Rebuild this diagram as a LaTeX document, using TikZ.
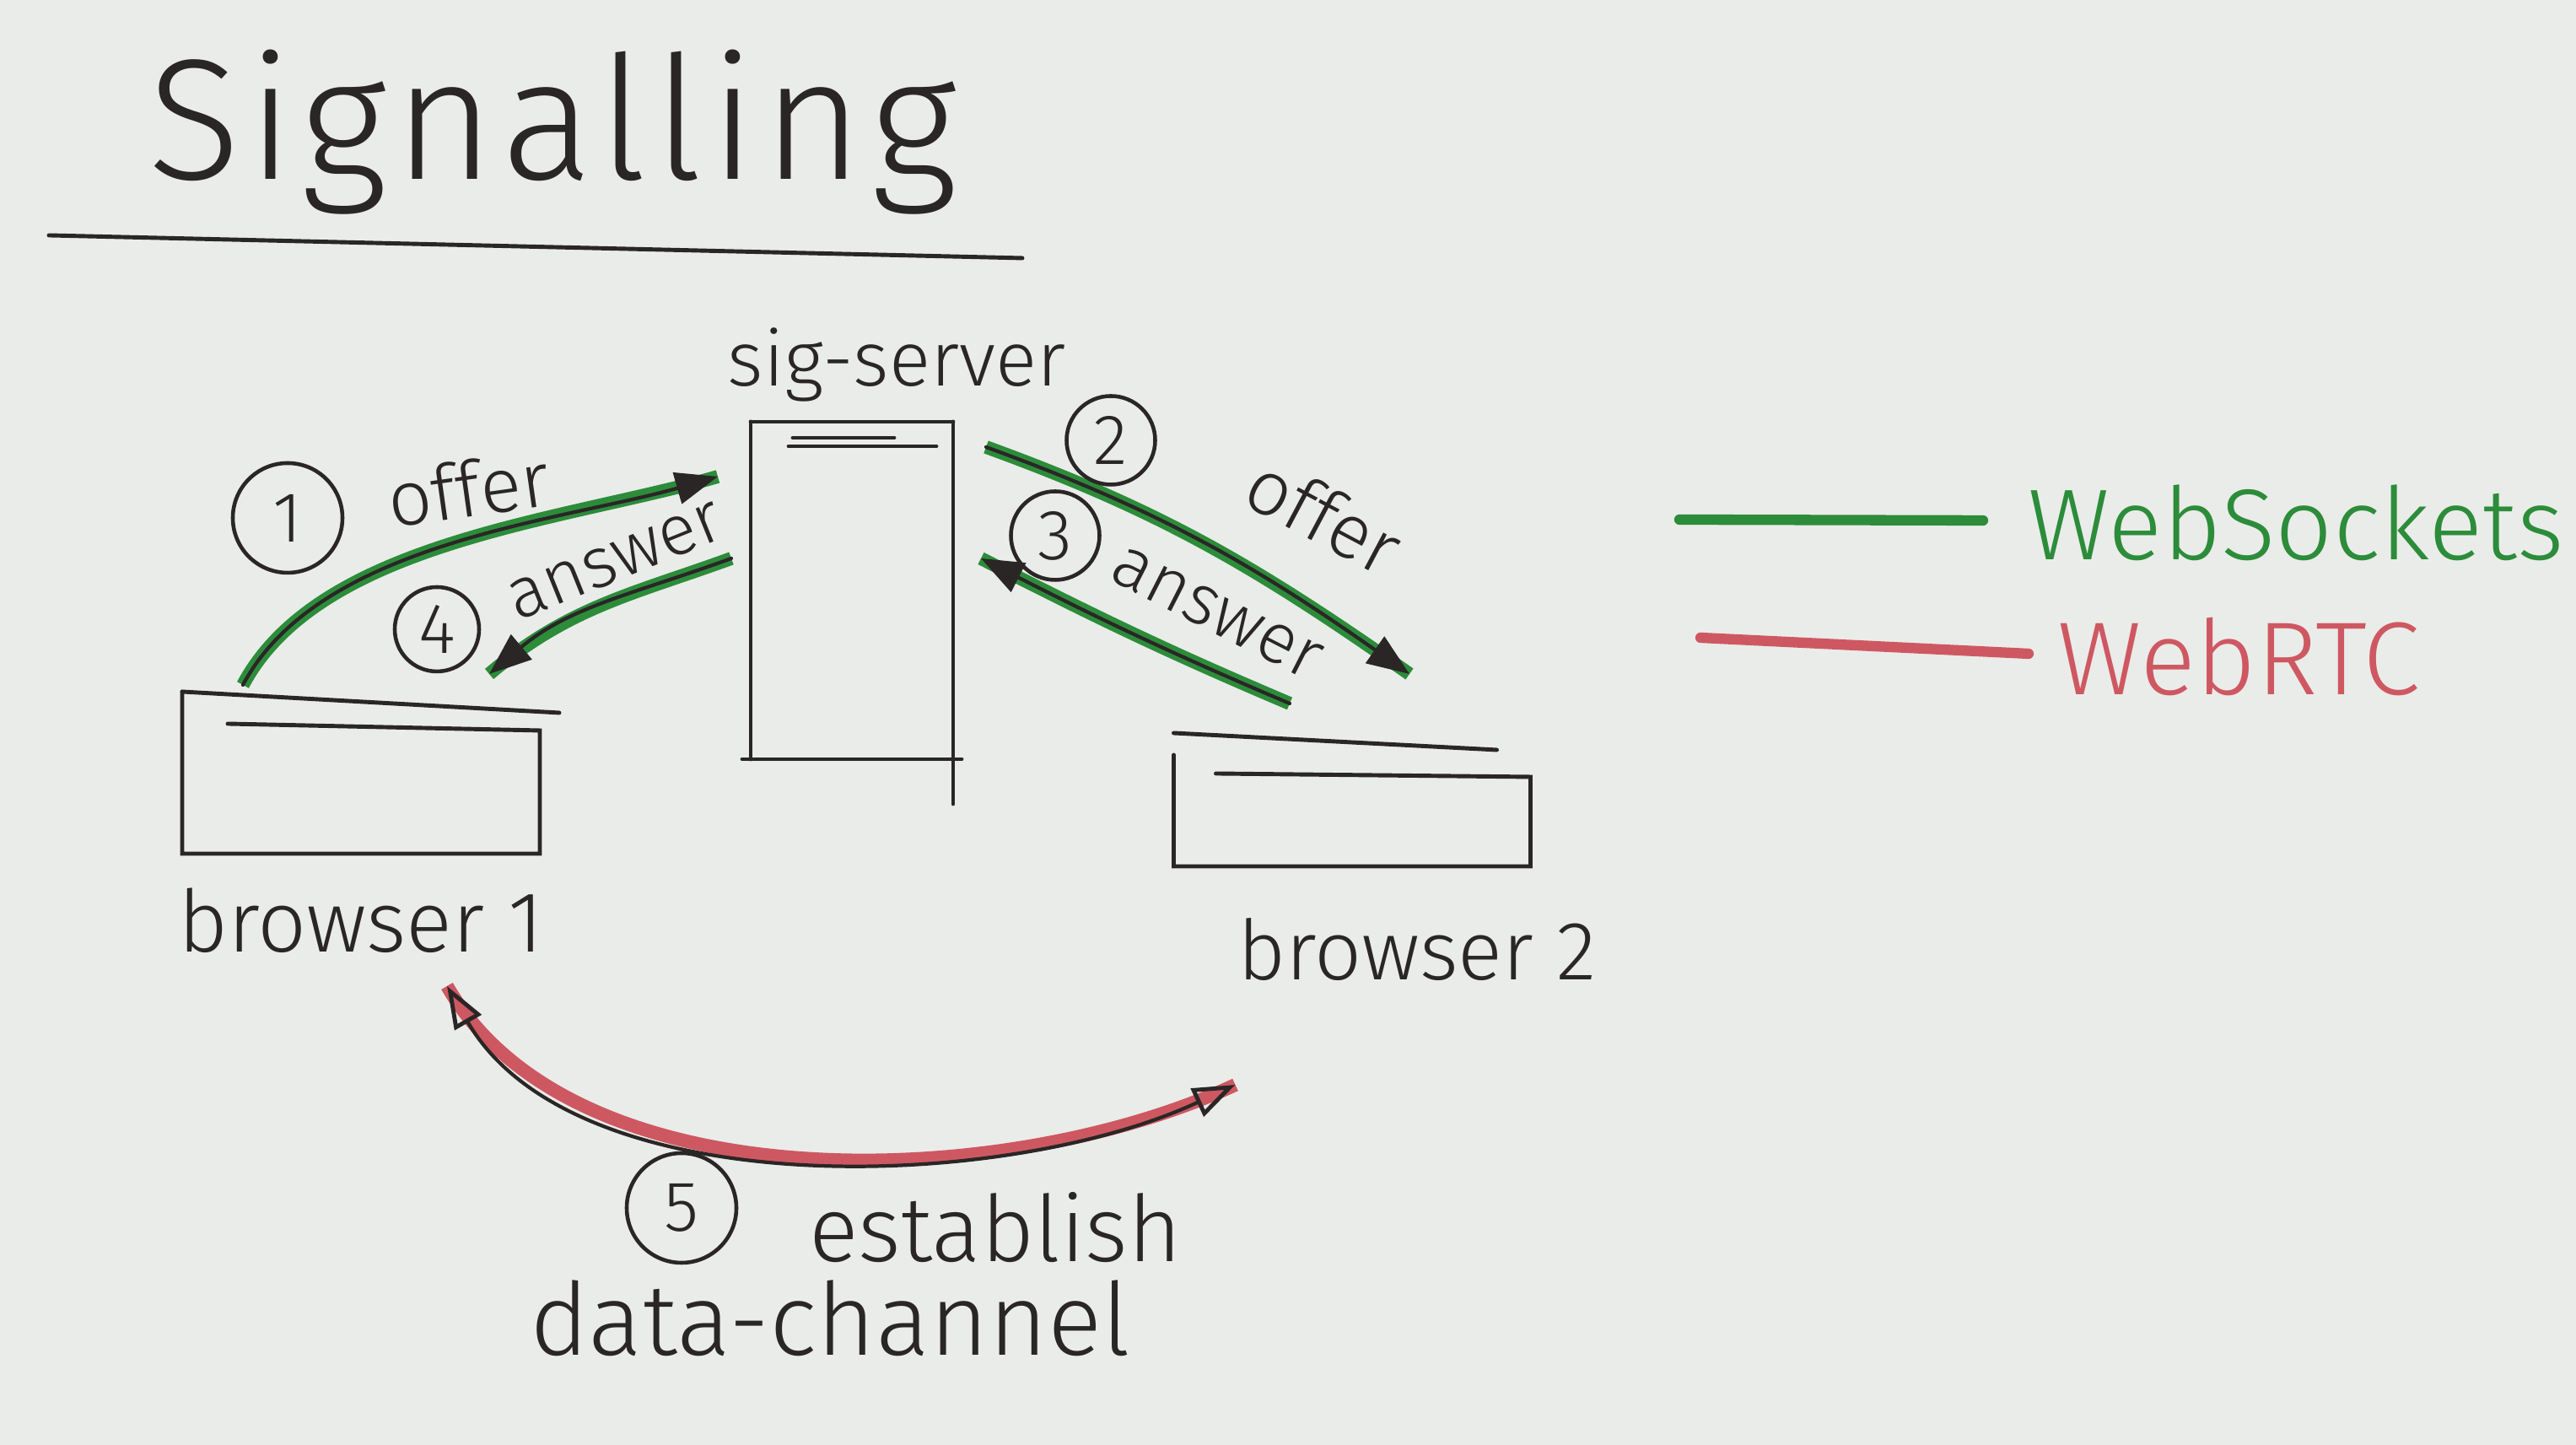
\documentclass[tikz,border=0pt]{standalone}
\usepackage{fontspec}
\setmainfont{Fira Sans Light}
\usetikzlibrary{arrows.meta,positioning}

\definecolor{paper}{RGB}{234,236,233}
\definecolor{pen}{RGB}{42,38,38}
\definecolor{wsgreen}{RGB}{44,140,58}
\definecolor{rtcred}{RGB}{206,88,98}

\tikzset{
  ink/.style={draw=pen, line width=1.4pt, line cap=round},
  boxnode/.style={inner sep=0pt, outer sep=0pt},
  stepnum/.style={circle, draw=pen, line width=1.3pt, minimum size=1.15cm, inner sep=0pt,
    text=pen, font=\fontsize{24}{24}\selectfont},
  lbl/.style={text=pen, inner sep=1pt, font=\fontsize{26}{30}\selectfont},
  wsarrow/.style={draw=pen, line width=1.2pt, line cap=round,
    -{Triangle[length=5mm,width=3.8mm]},
    preaction={draw=wsgreen, line width=4.5pt, -}},
  rtcarrow/.style={draw=pen, line width=1.2pt, line cap=round,
    {Triangle[open,length=5mm,width=3.6mm,line width=1.4pt]}-{Triangle[open,length=5mm,width=3.6mm,line width=1.4pt]},
    preaction={draw=rtcred, line width=4.5pt, -}}
}

\begin{document}
\begin{tikzpicture}
    \fill[paper] (0,0) rectangle (30.54,17.13);
    \useasboundingbox (0,0) rectangle (30.54,17.13);

    % title
    \node[lbl, anchor=base west, font=\fontsize{58}{64}\selectfont\addfontfeatures{LetterSpace=4}] (title) at (1.71,15.0) {Signalling};
    \draw[ink] (0.58,14.34) -- (12.12,14.07);

    % server and browsers
    \node[boxnode, minimum width=2.4cm, minimum height=4cm] (server) at (10.10,10.13) {};
    \node[boxnode, minimum width=4.24cm, minimum height=1.92cm] (browserA) at (4.28,7.97) {};
    \node[boxnode, minimum width=4.23cm, minimum height=1.58cm] (browserB) at (16.03,7.65) {};

    \draw[ink] (server.north west) -- (server.north east);
    \draw[ink] (server.north west) -- (server.south west);
    \draw[ink] ([xshift=-1mm]server.south west) -- ([xshift=1mm]server.south east);
    \draw[ink] (server.north east) -- ([yshift=-5.3mm]server.south east);
    \draw[ink] ([xshift=4.5mm,yshift=-2.9mm]server.north west) -- ([xshift=-2mm,yshift=-2.9mm]server.north east);
    \draw[ink] ([xshift=5mm,yshift=-1.9mm]server.north west) -- ([xshift=-7mm,yshift=-1.9mm]server.north east);

    \draw[ink] (browserA.north west) -- ([xshift=2.3mm,yshift=-2.5mm]browserA.north east);
    \draw[ink] ([xshift=5.4mm,yshift=-3.8mm]browserA.north west) -- ([yshift=-4.6mm]browserA.north east)
        -- (browserA.south east) -- (browserA.south west) -- (browserA.north west);

    \draw[ink] (browserB.north west) -- ([xshift=-4mm,yshift=-2mm]browserB.north east);
    \draw[ink] ([xshift=5mm,yshift=-4.8mm]browserB.north west) -- ([yshift=-5.2mm]browserB.north east)
        -- (browserB.south east) -- (browserB.south west) -- ([yshift=-2.6mm]browserB.north west);

    \node[lbl] (serverText) at (10.63,12.81) {sig-server};
    \node[lbl, font=\fontsize{29}{32}\selectfont] (browserAText) at (4.28,6.22) {browser 1};
    \node[lbl, font=\fontsize{28}{32}\selectfont] (browserBText) at (16.80,5.87) {browser 2};

    % websocket messages
    \draw[wsarrow] ([xshift=7.2mm,yshift=0.8mm]browserA.north west) to[out=62,in=196,looseness=0.8]
        ([xshift=-3.9mm,yshift=-6.5mm]server.north west);
    \draw[wsarrow] ([xshift=-2.3mm,yshift=-16.2mm]server.north west) to[out=200,in=40]
        ([xshift=-6mm,yshift=2.1mm]browserA.north east);
    \draw[wsarrow] ([xshift=3.9mm,yshift=-3mm]server.north east) to[out=-20,in=145]
        ([xshift=6.8mm,yshift=7mm]browserB.north);
    \draw[wsarrow] ([xshift=-7.4mm,yshift=3.5mm]browserB.north) to[out=157,in=-27]
        ([xshift=3.3mm,yshift=3.8mm]server.east);

    \node[stepnum, minimum size=1.3cm] (stepA) at (3.41,10.99) {1};
    \node[lbl, rotate=8] (offerA) at (5.55,11.34) {offer};
    \node[stepnum, minimum size=1.05cm] (stepB) at (13.17,11.91) {2};
    \node[lbl, rotate=-28] (offerB) at (15.70,11.02) {offer};
    \node[stepnum, minimum size=1.05cm] (stepC) at (12.51,10.78) {3};
    \node[lbl, rotate=-27, font=\fontsize{24}{28}\selectfont] (answerB) at (14.42,9.86) {answer};
    \node[stepnum, minimum size=1.0cm] (stepD) at (5.18,9.67) {4};
    \node[lbl, rotate=22, font=\fontsize{24}{28}\selectfont] (answerA) at (7.30,10.47) {answer};

    % webrtc data channel
    \draw[rtcarrow] ([xshift=-11mm,yshift=-15.7mm]browserA.south east) to[out=-60,in=205,looseness=0.82]
        ([xshift=7.3mm,yshift=-25.9mm]browserB.south west);

    \node[stepnum, minimum size=1.3cm] (stepE) at (8.08,2.81) {5};
    \node[lbl, font=\fontsize{31}{34}\selectfont] (establish) at (11.80,2.58) {establish};
    \node[lbl, font=\fontsize{34}{38}\selectfont] (channel) at (9.84,1.50) {data-channel};

    % legend
    \node[lbl, anchor=west, text=wsgreen, font=\fontsize{34}{38}\selectfont] (wsText) at (24.0,10.93) {WebSockets};
    \node[lbl, anchor=west, text=rtcred, font=\fontsize{35}{38}\selectfont] (rtcText) at (24.35,9.34) {WebRTC};
    \coordinate (wsStart) at (19.91,10.97);
    \coordinate (rtcStart) at (20.16,9.57);
    \draw[wsgreen, line width=3.5pt, line cap=round] (wsStart) -- ([xshift=-4.9mm,yshift=0.3mm]wsText.west);
    \draw[rtcred, line width=3.5pt, line cap=round] (rtcStart) -- ([xshift=-3mm,yshift=0.4mm]rtcText.west);
\end{tikzpicture}
\end{document}
